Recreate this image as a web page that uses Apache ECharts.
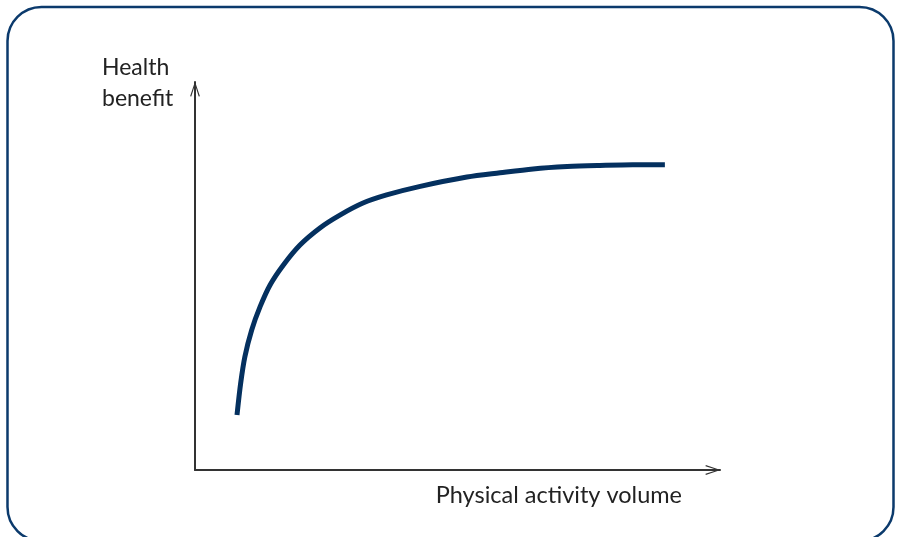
<!DOCTYPE html>
<html>
<head>
<meta charset="utf-8">
<script src="https://cdn.jsdelivr.net/npm/echarts@6/dist/echarts.min.js"></script>
<style>html,body{margin:0;padding:0;background:#fff}#c{width:897px;height:537px}</style>
</head>
<body>
<div id="c"></div>
<script>
// Data (arbitrary units)
const activityVolume = [8.0, 8.7, 9.5, 10.8, 12.4, 14.3, 16.8, 20.0, 23.8, 27.6, 32.0, 36.5, 42.9, 51.8, 58.1, 64.4, 70.9, 77.1, 83.4, 89.5];
const healthBenefit  = [14.2, 22.4, 29.2, 36.1, 42.1, 47.7, 52.8, 58.0, 62.4, 65.7, 68.8, 70.9, 73.1, 75.5, 76.6, 77.6, 78.2, 78.5, 78.7, 78.7];
const xAxisName = 'Physical activity volume';
const yAxisName = 'Health\nbenefit';

const chevronUp = 'path://M5,0 L10,15 L8.8,15.3 L5,3.2 L1.2,15.3 L0,15 Z';
const font = 'Lato';

const chart = echarts.init(document.getElementById('c'), null, {renderer: 'canvas'});
chart.setOption({
  animation: false,
  backgroundColor: '#ffffff',
  title: {
    text: yAxisName, left: 102, top: 52, padding: 0,
    textStyle: {fontFamily: font, fontSize: 23, fontWeight: 'normal', color: '#222222', lineHeight: 31}
  },
  grid: {left: 195, right: 177, top: 82, bottom: 67, containLabel: false},
  xAxis: {
    type: 'value', min: 0, max: 100,
    axisLine: {show: true, onZero: false, lineStyle: {color: '#333333', width: 2},
      symbol: ['none', chevronUp], symbolSize: [11, 15], symbolOffset: [0, -7]},
    axisTick: {show: false}, axisLabel: {show: false}, splitLine: {show: false},
    name: xAxisName, nameLocation: 'end', nameGap: -38,
    nameTextStyle: {fontFamily: font, fontSize: 23.5, color: '#222222', align: 'right', verticalAlign: 'top', padding: [13, 0, 0, 0]}
  },
  yAxis: {
    type: 'value', min: 0, max: 100,
    axisLine: {show: true, onZero: false, lineStyle: {color: '#333333', width: 2},
      symbol: ['none', chevronUp], symbolSize: [10, 15], symbolOffset: [0, -7]},
    axisTick: {show: false}, axisLabel: {show: false}, splitLine: {show: false}
  },
  series: [{
    type: 'line',
    data: activityVolume.map((x, i) => [x, healthBenefit[i]]),
    smooth: 0.3,
    showSymbol: false,
    lineStyle: {color: '#04305f', width: 5, cap: 'butt'}
  }],
  graphic: [{
    type: 'rect', silent: true, z: -1,
    shape: {x: 7.5, y: 7, width: 886, height: 534, r: 34},
    style: {fill: 'none', stroke: '#0b3a6c', lineWidth: 2.5}
  }]
});
</script>
</body>
</html>
